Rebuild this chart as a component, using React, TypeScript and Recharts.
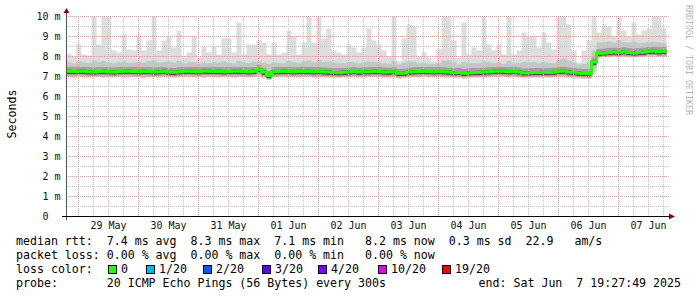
import { ComposedChart, Area, Line, XAxis, YAxis, ReferenceLine } from 'recharts'

// time axis in hours from 29 May 00:00, one bin every 2h
const startHour = -4.8
const endHour = 236.4
const binHours = 2

const dayLabels = ['29 May', '30 May', '31 May', '01 Jun', '02 Jun', '03 Jun', '04 Jun', '05 Jun', '06 Jun', '07 Jun']
const yTicks = [0, 1, 2, 3, 4, 5, 6, 7, 8, 9, 10]

// median rtt per bin (ms)
const medianRtt = [
  7.26, 7.25, 7.27, 7.26, 7.24, 7.23, 7.25, 7.26, 7.24, 7.23,
  7.25, 7.26, 7.27, 7.25, 7.24, 7.26, 7.25, 7.23, 7.24, 7.26,
  7.22, 7.21, 7.24, 7.26, 7.27, 7.25, 7.24, 7.27, 7.26, 7.25,
  7.26, 7.24, 7.25, 7.27, 7.26, 7.25, 7.24, 7.26, 7.35, 7.22,
  7.05, 7.24, 7.25, 7.26, 7.25, 7.24, 7.26, 7.25, 7.26, 7.24,
  7.25, 7.23, 7.22, 7.2, 7.19, 7.21, 7.23, 7.25, 7.22, 7.24,
  7.24, 7.26, 7.25, 7.23, 7.22, 7.24, 7.16, 7.17, 7.22, 7.24,
  7.25, 7.26, 7.25, 7.24, 7.25, 7.24, 7.22, 7.19, 7.2, 7.16,
  7.19, 7.2, 7.21, 7.22, 7.24, 7.26, 7.27, 7.26, 7.24, 7.25,
  7.23, 7.18, 7.19, 7.2, 7.2, 7.21, 7.2, 7.22, 7.26, 7.27,
  7.23, 7.2, 7.17, 7.15, 7.14, 7.72, 8.15, 8.18, 8.2, 8.22,
  8.2, 8.24, 8.2, 8.18, 8.2, 8.22, 8.26, 8.27, 8.24, 8.25,
]

// highest ping per bin
const maxRtt = [
  8.15, 8.0, 8.6, 8.1, 8.05, 10.0, 8.6, 10.0, 10.0, 8.3,
  8.2, 9.1, 8.35, 8.3, 9.1, 8.3, 8.8, 10.0, 8.3, 8.8,
  9.0, 8.45, 9.3, 7.95, 8.2, 9.0, 7.95, 8.5, 8.2, 8.5,
  8.1, 8.9, 8.9, 8.2, 9.7, 8.1, 8.6, 8.6, 8.8, 8.7,
  8.1, 8.7, 8.1, 8.2, 9.3, 9.0, 8.1, 8.7, 10.0, 8.7,
  10.0, 8.9, 9.4, 8.3, 8.2, 8.1, 8.6, 8.45, 8.2, 8.45,
  9.4, 8.8, 8.6, 8.3, 8.0, 10.0, 7.75, 8.9, 9.6, 9.5,
  8.0, 8.2, 7.95, 7.75, 8.35, 10.0, 10.0, 8.8, 7.95, 9.7,
  8.1, 8.45, 8.3, 10.0, 8.6, 8.3, 8.6, 8.1, 10.0, 8.1,
  8.3, 9.2, 9.0, 9.0, 8.45, 9.2, 8.7, 8.35, 10.0, 10.0,
  9.6, 8.3, 7.7, 8.3, 8.8, 10.0, 9.2, 9.6, 9.5, 9.0,
  10.0, 9.3, 9.0, 9.7, 9.1, 9.3, 9.4, 10.0, 10.0, 9.4,
]

// top of the denser smoke per bin
const upperRtt = [
  7.7, 7.65, 7.75, 7.7, 7.68, 7.8, 7.72, 7.78, 7.7, 7.66,
  7.7, 7.75, 7.68, 7.7, 7.74, 7.7, 7.76, 7.8, 7.7, 7.72,
  7.75, 7.7, 7.78, 7.65, 7.7, 7.72, 7.65, 7.7, 7.68, 7.72,
  7.7, 7.75, 7.7, 7.66, 7.78, 7.7, 7.68, 7.72, 7.75, 7.7,
  7.62, 7.7, 7.68, 7.66, 7.78, 7.72, 7.68, 7.75, 7.8, 7.7,
  7.82, 7.72, 7.75, 7.7, 7.66, 7.68, 7.72, 7.7, 7.66, 7.7,
  7.75, 7.72, 7.7, 7.66, 7.64, 7.78, 7.6, 7.7, 7.76, 7.74,
  7.66, 7.68, 7.64, 7.62, 7.68, 7.8, 7.82, 7.7, 7.6, 7.72,
  7.66, 7.68, 7.66, 7.75, 7.7, 7.66, 7.7, 7.64, 7.78, 7.66,
  7.68, 7.72, 7.7, 7.74, 7.66, 7.72, 7.68, 7.66, 7.85, 7.9,
  7.8, 7.7, 7.6, 7.62, 7.7, 8.3, 8.7, 8.72, 8.75, 8.7,
  8.8, 8.72, 8.7, 8.75, 8.68, 8.7, 8.74, 8.72, 8.7, 8.66,
]

// lowest ping per bin
const minRtt = [
  6.95, 6.93, 6.96, 6.94, 6.92, 6.95, 6.97, 6.93, 6.95, 6.94,
  6.96, 6.92, 6.95, 6.97, 6.94, 6.9, 6.95, 6.96, 6.93, 6.95,
  6.94, 6.92, 6.95, 6.96, 6.97, 6.94, 6.95, 6.93, 6.96, 6.95,
  6.94, 6.96, 6.95, 6.93, 6.95, 6.97, 6.94, 6.96, 6.98, 6.9,
  6.86, 6.94, 6.95, 6.96, 6.93, 6.95, 6.94, 6.96, 6.95, 6.92,
  6.94, 6.95, 6.93, 6.9, 6.92, 6.94, 6.93, 6.95, 6.92, 6.94,
  6.95, 6.96, 6.94, 6.93, 6.92, 6.95, 6.88, 6.9, 6.93, 6.95,
  6.94, 6.96, 6.95, 6.94, 6.95, 6.93, 6.92, 6.9, 6.91, 6.88,
  6.9, 6.92, 6.93, 6.92, 6.94, 6.96, 6.95, 6.96, 6.94, 6.95,
  6.93, 6.9, 6.91, 6.92, 6.93, 6.92, 6.91, 6.93, 6.95, 6.94,
  6.92, 6.9, 6.88, 6.87, 6.86, 7.2, 7.95, 7.97, 7.98, 7.96,
  7.97, 7.98, 7.96, 7.95, 7.97, 7.98, 8.0, 7.99, 7.97, 7.96,
]

const statsLines = [
  'median rtt:  7.4 ms avg  8.3 ms max  7.1 ms min   8.2 ms now  0.3 ms sd  22.9   am/s',
  'packet loss: 0.00 % avg  0.00 % max  0.00 % min   0.00 % now',
]
const probeText = 'probe:       20 ICMP Echo Pings (56 Bytes) every 300s'
const endText = 'end: Sat Jun  7 19:27:49 2025'

const lossLabels = ['0', '1/20', '2/20', '3/20', '4/20', '10/20', '19/20']
const lossColors = ['#22ff00', '#00b8ff', '#0059ff', '#5e00ff', '#7e00ff', '#dd00ff', '#ff0000']
const lossX = [108, 146, 203, 262, 318, 378, 442]

const mono = "'DejaVu Sans Mono', monospace"
const minorGrid = '#c4c4c4'
const majorGrid = '#dc9c9c'

export default function App() {
  const data = medianRtt.map((m, i) => ({
    t: startHour + i * binHours,
    median: m,
    max: maxRtt[i],
    upper: upperRtt[i],
    min: minRtt[i],
  }))
  // close the last step
  data.push({ ...data[data.length - 1], t: startHour + data.length * binHours })

  const dayTicks = dayLabels.map((_, i) => i * 24 + 12)

  const majorY = yTicks.filter(v => v > 0)
  const minorY = yTicks.slice(0, -1).map(v => v + 0.5)
  const majorX: number[] = []
  const minorX: number[] = []
  for (let h = 0; h <= endHour; h += 6) {
    if (h % 24 === 0) majorX.push(h)
    else minorX.push(h)
  }

  // dots land on whole pixels when shifted by half a pixel
  const dot = { strokeDasharray: '1 1', strokeDashoffset: 0.5 }

  return (
    <div style={{ position: 'absolute', left: 0, top: 0, width: 697, height: 297, background: '#fff' }}>
      <ComposedChart
        width={697}
        height={297}
        data={data}
        margin={{ top: 16.5, right: 27.5, bottom: 60.5, left: 0 }}
      >
        <XAxis
          dataKey="t"
          type="number"
          domain={[startHour, endHour]}
          allowDataOverflow
          ticks={dayTicks}
          tickFormatter={(v: number) => dayLabels[Math.round((v - 12) / 24)]}
          interval={0}
          height={20}
          tickLine={false}
          tickSize={3}
          tickMargin={2}
          axisLine={{ stroke: '#000' }}
          tick={{ fontSize: 10, fontFamily: mono, fill: '#111' }}
        />
        <YAxis
          type="number"
          domain={[0, 10]}
          ticks={yTicks}
          interval={0}
          width={66.5}
          tickLine={false}
          tickSize={4}
          tickMargin={2}
          axisLine={{ stroke: '#555' }}
          tickFormatter={(v: number) => (v === 0 ? '0\u00a0\u00a0' : `${v} m`)}
          tick={{ fontSize: 10, fontFamily: mono, fill: '#111' }}
        />

        <Area dataKey={(d: any) => [d.min, d.max]} type="stepAfter" stroke="none" fill="#dddddd" fillOpacity={1} isAnimationActive={false} dot={false} activeDot={false} />
        <Area dataKey={(d: any) => [d.min + 0.06, d.upper]} type="stepAfter" stroke="none" fill="#c6c6c6" fillOpacity={1} isAnimationActive={false} dot={false} activeDot={false} />
        <Area dataKey={(d: any) => [d.median - 0.2, d.median + 0.22]} type="stepAfter" stroke="none" fill="#a0a0a0" fillOpacity={1} isAnimationActive={false} dot={false} activeDot={false} />
        <Area dataKey={(d: any) => [d.median - 0.13, d.median + 0.08]} type="stepAfter" stroke="none" fill="#4a4a4a" fillOpacity={1} isAnimationActive={false} dot={false} activeDot={false} />

        {minorY.map(v => (
          <ReferenceLine key={'my' + v} y={v} stroke={minorGrid} {...dot} />
        ))}
        {minorX.map(v => (
          <ReferenceLine key={'mx' + v} x={v} stroke={minorGrid} {...dot} />
        ))}
        {majorY.map(v => (
          <ReferenceLine key={'My' + v} y={v} stroke={majorGrid} {...dot} />
        ))}
        {majorX.map(v => (
          <ReferenceLine key={'Mx' + v} x={v} stroke={majorGrid} {...dot} />
        ))}

        <Line dataKey="median" type="stepAfter" stroke="#22ff00" strokeWidth={3} dot={false} activeDot={false} isAnimationActive={false} />
      </ComposedChart>

      <svg width={697} height={297} style={{ position: 'absolute', left: 0, top: 0, pointerEvents: 'none' }}>
        {/* axis extensions and arrows */}
        <line x1={66.5} y1={12} x2={66.5} y2={17} stroke="#555" />
        <line x1={66.5} y1={216} x2={66.5} y2={220} stroke="#555" />
        <line x1={62} y1={216.5} x2={67} y2={216.5} stroke="#000" />
        <line x1={669} y1={216.5} x2={671} y2={216.5} stroke="#000" />
        <polygon points="66.5,8 63.5,13 69.5,13" fill="#8b0000" />
        <polygon points="675,216.5 669,213.5 669,219.5" fill="#8b0000" />

        <text x={11.5} y={114} transform="rotate(-90 11.5 114)" textAnchor="middle" dominantBaseline="central" fontFamily={mono} fontSize={11.6} fill="#000">
          Seconds
        </text>
        <text x={689} y={5} transform="rotate(90 689 5)" dominantBaseline="central" fontFamily={mono} fontSize={8.3} fill="#b4b4b4">
          RRDTOOL / TOBI OETIKER
        </text>

        {statsLines.map((s, i) => (
          <text key={i} x={16} y={245 + i * 14} fontFamily={mono} fontSize={11.6} fill="#000" style={{ whiteSpace: 'pre' }}>
            {s}
          </text>
        ))}
        <text x={16} y={273} fontFamily={mono} fontSize={11.6} fill="#000" style={{ whiteSpace: 'pre' }}>
          loss color:
        </text>
        {lossLabels.map((l, i) => (
          <g key={l}>
            <rect x={lossX[i] + 0.5} y={265.5} width={8} height={8} fill={lossColors[i]} stroke="#000" />
            <text x={lossX[i] + 13} y={273} fontFamily={mono} fontSize={11.6} fill="#000">
              {l}
            </text>
          </g>
        ))}
        <text x={16} y={287} fontFamily={mono} fontSize={11.6} fill="#000" style={{ whiteSpace: 'pre' }}>
          {probeText}
        </text>
        <text x={681} y={287} textAnchor="end" fontFamily={mono} fontSize={11.6} fill="#000" style={{ whiteSpace: 'pre' }}>
          {endText}
        </text>
      </svg>
    </div>
  )
}
